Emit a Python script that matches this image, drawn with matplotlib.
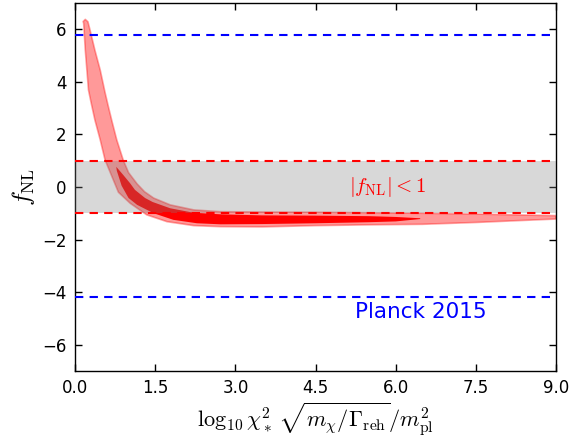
import numpy as np
import matplotlib
matplotlib.use("Agg")
import matplotlib.pyplot as plt

plt.rcParams['mathtext.fontset'] = 'cm'
plt.rcParams['font.family'] = ['DejaVu Sans']

# 95% region (light) boundaries
light_up_x = [0.19, 0.24, 0.28, 0.37, 0.47, 0.56, 0.62, 0.69, 0.78, 0.90, 1.00, 1.16, 1.30, 1.47,
              1.78, 2.22, 2.72, 3.5, 4.5, 5.5, 6.5, 7.5, 9.0]
light_up_y = [6.38, 6.29, 5.97, 5.21, 4.45, 3.60, 3.08, 2.50, 1.79, 1.03, 0.55, 0.12, -0.18, -0.42,
              -0.68, -0.87, -0.94, -0.95, -0.96, -0.98, -1.00, -1.03, -1.09]
light_lo_x = [0.15, 0.16, 0.19, 0.22, 0.25, 0.30, 0.37, 0.47, 0.56, 0.69, 0.81, 1.03, 1.34, 1.72,
              2.22, 2.72, 3.5, 4.5, 5.5, 6.5, 7.5, 8.3, 9.0]
light_lo_y = [6.30, 6.22, 5.21, 4.45, 3.69, 3.20, 2.55, 1.79, 1.03, 0.39, -0.20, -0.62, -1.06, -1.32,
              -1.47, -1.51, -1.52, -1.47, -1.44, -1.42, -1.35, -1.28, -1.22]

# 68% region (dark) boundaries
dark_up_x = [0.77, 0.90, 1.03, 1.12, 1.31, 1.45, 1.78, 2.22, 2.72, 3.5, 4.5, 5.5, 6.0, 6.46]
dark_up_y = [0.77, 0.46, 0.14, -0.11, -0.42, -0.57, -0.81, -0.98, -1.04, -1.08, -1.09, -1.11, -1.14, -1.19]
dark_lo_x = [0.78, 0.87, 1.00, 1.16, 1.47, 1.84, 2.28, 2.72, 3.5, 4.5, 5.5, 6.0, 6.46]
dark_lo_y = [0.62, 0.05, -0.42, -0.68, -1.00, -1.25, -1.38, -1.42, -1.41, -1.38, -1.34, -1.31, -1.22]

planck_lines = [5.8, -4.2]
fnl_bound = [1.0, -1.0]
xticks = [0.0, 1.5, 3.0, 4.5, 6.0, 7.5, 9.0]
yticks = [-6, -4, -2, 0, 2, 4, 6]

fig = plt.figure(figsize=(5.87, 4.40), dpi=100)
ax = fig.add_axes([0.128, 0.157, 0.819, 0.836])

lx = np.concatenate([light_up_x, light_lo_x[::-1]])
ly = np.concatenate([light_up_y, light_lo_y[::-1]])
ax.fill(lx, ly, facecolor=(1, 0, 0, 0.4), edgecolor=(1, 0, 0, 0.35), lw=1.2,
        joinstyle='round', zorder=2)

dx = np.concatenate([dark_up_x, dark_lo_x[::-1]])
dy = np.concatenate([dark_up_y, dark_lo_y[::-1]])
ax.fill(dx, dy, facecolor='red', edgecolor='none', zorder=3)

ax.axhspan(fnl_bound[1], fnl_bound[0], color=(0.5, 0.5, 0.5), alpha=0.3, lw=0, zorder=4)

for v in fnl_bound:
    ax.axhline(v, color='red', ls='--', lw=1.5, dashes=(4, 3), zorder=5)
for v in planck_lines:
    ax.axhline(v, color='blue', ls='--', lw=1.5, dashes=(4, 3), zorder=5)

ax.text(5.85, 0.0, r'$|f_{\rm NL}|<1$', color='red', fontsize=15, ha='center', va='center', zorder=6)
ax.text(6.48, -4.75, 'Planck 2015', color='blue', fontsize=15.5, ha='center', va='center', zorder=6)

ax.set_xlim(0, 9)
ax.set_ylim(-7, 7)
ax.set_xticks(xticks)
ax.set_xticklabels([f'{t:.1f}' for t in xticks])
ax.set_yticks(yticks)
ax.tick_params(direction='in', top=True, right=True, length=5, width=1, labelsize=12, pad=6)
for s in ax.spines.values():
    s.set_linewidth(1)

ax.set_xlabel(r'$\log_{10}\chi_*^2\,\sqrt{m_\chi/\Gamma_{\rm reh}}/m_{\rm pl}^2$', fontsize=16, labelpad=2)
ax.set_ylabel(r'$f_{\rm NL}$', fontsize=18, labelpad=4)

fig.savefig('out.png', dpi=100, facecolor='white')
